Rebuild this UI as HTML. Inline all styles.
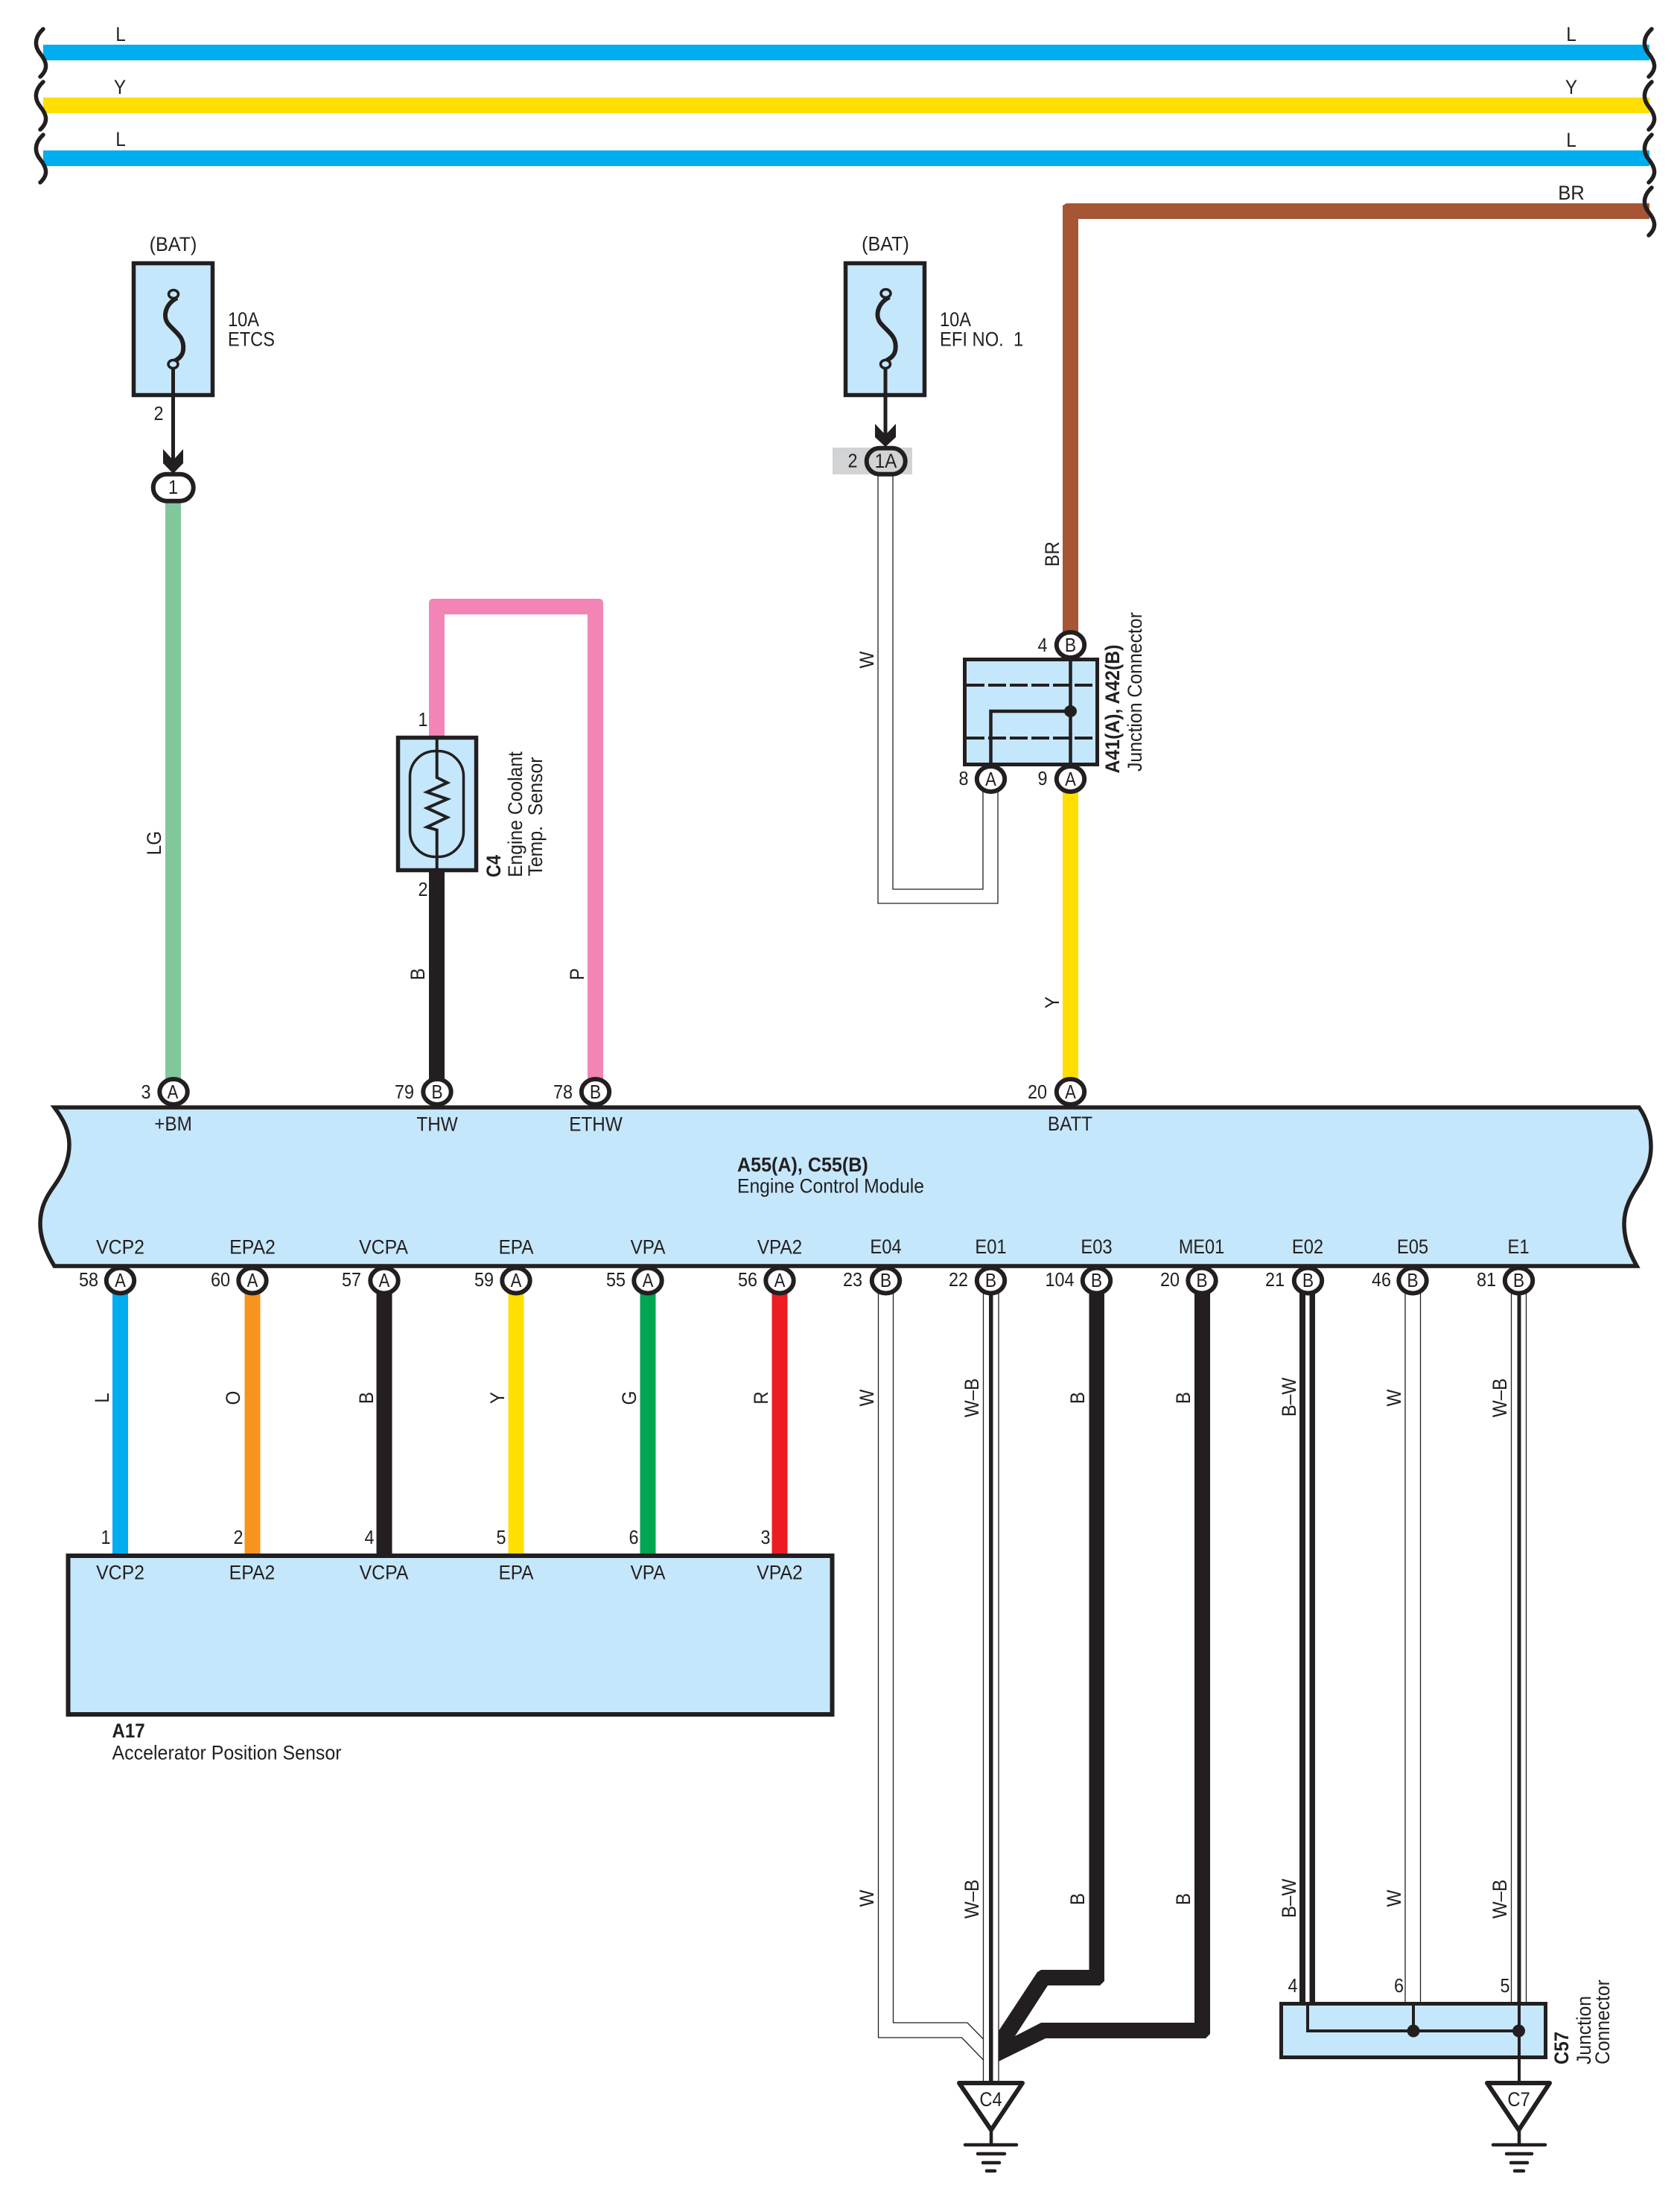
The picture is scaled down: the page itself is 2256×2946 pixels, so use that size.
<!DOCTYPE html>
<html><head><meta charset="utf-8"><title>Wiring diagram</title>
<style>
html,body{margin:0;padding:0;background:#fff}
svg{display:block}
text{font-family:"Liberation Sans",sans-serif;font-size:27px;fill:#231f20}
.m{text-anchor:middle}
.b{font-weight:bold}
.n{font-size:26px}
.k{fill:none;stroke:#231f20}
.t{fill:none;stroke:#231f20;stroke-width:1.3}
.box{fill:#c5e7fb;stroke:#231f20}
.c{fill:#fff;stroke:#231f20;stroke-width:6}
</style></head>
<body>
<svg xmlns="http://www.w3.org/2000/svg" width="2256" height="2946" viewBox="0 0 2256 2946">
<rect width="2256" height="2946" fill="#fff"/>

<!-- bus wires -->
<rect x="58" y="60" width="2157" height="21" fill="#00aeef"/>
<rect x="58" y="131" width="2157" height="21" fill="#ffde00"/>
<rect x="58" y="202" width="2157" height="21" fill="#00aeef"/>
<path d="M2215 273H1432L1427 276V860H1448V294H2215Z" fill="#a65535"/>

<!-- braces -->
<g class="k" stroke-width="5.5" stroke-linecap="round" fill="none" style="fill:none;stroke:#231f20">
<path id="br" d="M58 39C46 50 46 62 54 72C62 82 66 92 54 103"/>
<path d="M58 110C46 121 46 133 54 143C62 153 66 163 54 174"/>
<path d="M58 181C46 192 46 204 54 214C62 224 66 234 54 245"/>
<path d="M2218 39C2206 50 2206 62 2214 72C2222 82 2226 92 2214 103"/>
<path d="M2218 110C2206 121 2206 133 2214 143C2222 153 2226 163 2214 174"/>
<path d="M2218 181C2206 192 2206 204 2214 214C2222 224 2226 234 2214 245"/>
<path d="M2218 252C2206 263 2206 275 2214 285C2222 295 2226 305 2214 316"/>
</g>
<text class="m" transform="matrix(.9 0 0 1 162 55)">L</text>
<text class="m" transform="matrix(.9 0 0 1 161 126)">Y</text>
<text class="m" transform="matrix(.9 0 0 1 162 196)">L</text>
<text class="m" transform="matrix(.9 0 0 1 2110 55)">L</text>
<text class="m" transform="matrix(.9 0 0 1 2110 126)">Y</text>
<text class="m" transform="matrix(.9 0 0 1 2110 197)">L</text>
<text class="m" transform="matrix(.95 0 0 1 2110 268)">BR</text>

<!-- fuse 1 -->
<rect class="box" x="179.5" y="353.5" width="106" height="177" stroke-width="5.5"/>
<g id="f1" style="fill:none;stroke:#231f20">
<path d="M238 400C222 408 218 425 226 435C236 447 248 452 246 470C245 478 240 482 232 486" stroke-width="6" fill="none"/>
<path d="M232.5 496V620" stroke-width="5"/>
<ellipse cx="233" cy="395" rx="6.5" ry="5.5" stroke-width="3.5" fill="#c5e7fb"/>
<ellipse cx="232.5" cy="489" rx="6.5" ry="5.5" stroke-width="3.5" fill="#c5e7fb"/>
</g>
<polygon points="219,603 232.5,618 246,603 246,622 232.5,636 219,622" fill="#231f20"/>
<rect x="222" y="670" width="21" height="780" fill="#82c69c"/>
<rect class="c" x="205.7" y="636.7" width="54" height="36" rx="18" ry="18"/>
<text class="m" transform="matrix(.93 0 0 1 232.5 337)">(BAT)</text>
<text transform="matrix(.875 0 0 1 306 438)">10A</text>
<text transform="matrix(.875 0 0 1 306 464.5)">ETCS</text>
<text class="m n" transform="matrix(.9 0 0 1 213 564)">2</text>
<text class="m n" transform="matrix(.9 0 0 1 232.5 663)">1</text>
<text class="m" transform="matrix(0 -.9 1 0 216 1132)">LG</text>

<!-- fuse 2 -->
<rect class="box" x="1135.5" y="353.5" width="106" height="177" stroke-width="5.5"/>
<g transform="translate(956.5,-1)" style="fill:none;stroke:#231f20">
<path d="M238 400C222 408 218 425 226 435C236 447 248 452 246 470C245 478 240 482 232 486" stroke-width="6" fill="none"/>
<path d="M232.5 496V590" stroke-width="5"/>
<ellipse cx="233" cy="395" rx="6.5" ry="5.5" stroke-width="3.5" fill="#c5e7fb"/>
<ellipse cx="232.5" cy="490" rx="6.5" ry="5.5" stroke-width="3.5" fill="#c5e7fb"/>
</g>
<polygon points="1175,569 1189,584 1203,569 1203,587 1189,600 1175,587" fill="#231f20"/>
<rect x="1118" y="601" width="107" height="36" fill="#d1d3d4"/>
<rect x="1163.7" y="601.7" width="52" height="35" rx="17.5" ry="17.5" fill="#d1d3d4" stroke="#231f20" stroke-width="6"/>
<text class="m" transform="matrix(.93 0 0 1 1189 336.5)">(BAT)</text>
<text transform="matrix(.875 0 0 1 1262 438)">10A</text>
<text transform="matrix(.88 0 0 1 1262 464.5)">EFI NO.&#160; 1</text>
<text class="m n" transform="matrix(.9 0 0 1 1145 627.5)">2</text>
<text class="m" transform="matrix(.9 0 0 1 1189.5 628)">1A</text>

<!-- white wire 1A to junction -->
<path class="t" d="M1199 636V1194H1320V1060"/>
<path class="t" d="M1179 636V1213H1340V1060"/>
<text class="m" transform="matrix(0 -.9 1 0 1173 886)">W</text>
<text class="m" transform="matrix(0 -.9 1 0 1422 744)">BR</text>

<!-- junction A41 -->
<rect class="box" x="1295.5" y="885.5" width="178" height="141" stroke-width="5"/>
<g class="k" style="fill:none;stroke:#231f20">
<path d="M1298 920H1471M1298 991H1471" stroke-width="4" stroke-dasharray="24 5"/>
<path d="M1437.5 885V1029M1437.5 955H1330.5V1029" stroke-width="4.5"/>
</g>
<ellipse cx="1437.5" cy="955" rx="8.5" ry="8" fill="#231f20"/>
<rect x="1427" y="1060" width="21" height="392" fill="#ffde00"/>
<ellipse class="c" cx="1437.5" cy="866" rx="18.7" ry="17"/>
<ellipse class="c" cx="1330.5" cy="1046" rx="18.7" ry="17"/>
<ellipse class="c" cx="1437.5" cy="1046" rx="18.7" ry="17"/>
<text class="m n" transform="matrix(.88 0 0 1 1437.5 875)">B</text>
<text class="m n" transform="matrix(.85 0 0 1 1330.5 1055)">A</text>
<text class="m n" transform="matrix(.85 0 0 1 1437.5 1055)">A</text>
<text class="m n" transform="matrix(.9 0 0 1 1400 875)">4</text>
<text class="m n" transform="matrix(.9 0 0 1 1294 1054)">8</text>
<text class="m n" transform="matrix(.9 0 0 1 1400 1054)">9</text>
<text class="m b" transform="matrix(0 -.92 1 0 1503 952)">A41(A), A42(B)</text>
<text class="m" transform="matrix(0 -.92 1 0 1533 929)">Junction Connector</text>
<text class="m" transform="matrix(0 -.9 1 0 1422 1346)">Y</text>

<!-- coolant sensor -->
<path d="M576 992V810Q576 804 582 804H804Q810 804 810 810V1452H789V825H597V992Z" fill="#f285b5"/>
<rect x="576" y="1168" width="21" height="282" fill="#231f20"/>
<rect class="box" x="534.5" y="990.5" width="105" height="178" stroke-width="5.5"/>
<g style="fill:none;stroke:#231f20">
<rect x="550.5" y="1008.5" width="72" height="142" rx="34" ry="34" stroke-width="3.5"/>
<path d="M586.7 990V1044L600.7 1051L573.3 1063.6L600.7 1073L573.3 1085L600.7 1097.5L573.3 1110.6L586.7 1114.5V1171" stroke-width="4"/>
</g>
<text class="m n" transform="matrix(.9 0 0 1 568 975)">1</text>
<text class="m n" transform="matrix(.9 0 0 1 568 1203)">2</text>
<text class="m b" transform="matrix(0 -.87 1 0 672 1163)">C4</text>
<text class="m" transform="matrix(0 -.915 1 0 701 1093.5)">Engine Coolant</text>
<text class="m" transform="matrix(0 -.92 1 0 728 1096.5)">Temp.&#160; Sensor</text>
<text class="m" transform="matrix(0 -.9 1 0 570 1308)">B</text>
<text class="m" transform="matrix(0 -.9 1 0 784 1308)">P</text>

<!-- lower-left wires -->
<rect x="151" y="1730" width="21" height="358" fill="#00aeef"/>
<rect x="328.5" y="1730" width="21" height="358" fill="#f7941e"/>
<rect x="505.5" y="1730" width="21" height="358" fill="#231f20"/>
<rect x="682.5" y="1730" width="21" height="358" fill="#ffde00"/>
<rect x="859.5" y="1730" width="21" height="358" fill="#00a651"/>
<rect x="1036.5" y="1730" width="21" height="358" fill="#ed1c24"/>
<text class="m" transform="matrix(0 -.9 1 0 146 1877)">L</text>
<text class="m" transform="matrix(0 -.9 1 0 322 1877)">O</text>
<text class="m" transform="matrix(0 -.9 1 0 501 1877)">B</text>
<text class="m" transform="matrix(0 -.9 1 0 677 1877)">Y</text>
<text class="m" transform="matrix(0 -.9 1 0 854 1877)">G</text>
<text class="m" transform="matrix(0 -.9 1 0 1031 1877)">R</text>

<!-- ground wires -->
<path class="t" d="M1199.5 1735V2716H1299L1320.5 2738"/>
<path class="t" d="M1179.5 1735V2736H1291.5L1320.5 2766"/>
<polygon points="1483,1730 1483,2660 1477,2666 1407,2666 1363,2734 1398,2716 1604,2716 1604,1730 1625,1730 1625,2731 1619,2737 1404,2737 1341,2768 1341,2727 1393,2648 1398,2645 1462.5,2645 1462.5,1730" fill="#231f20"/>
<path class="t" d="M1320.5 1735V2796M1341 1735V2796"/>
<rect x="1328" y="1735" width="5.5" height="1062" fill="#231f20"/>
<rect x="1745" y="1735" width="21" height="956" fill="#231f20"/>
<rect x="1753" y="1735" width="5.5" height="956" fill="#fff"/>
<path class="t" d="M1887 1735V2690M1907.5 1735V2690"/>
<path class="t" d="M2029.5 1735V2690M2049.5 1735V2690"/>
<rect x="2037.5" y="1735" width="5" height="956" fill="#231f20"/>

<text class="m" transform="matrix(0 -.9 1 0 1173 1877)">W</text>
<text class="m" transform="matrix(0 -.9 1 0 1314 1877)">W–B</text>
<text class="m" transform="matrix(0 -.9 1 0 1456 1877)">B</text>
<text class="m" transform="matrix(0 -.9 1 0 1598 1877)">B</text>
<text class="m" transform="matrix(0 -.9 1 0 1740 1876)">B–W</text>
<text class="m" transform="matrix(0 -.9 1 0 1881 1877)">W</text>
<text class="m" transform="matrix(0 -.9 1 0 2023 1877)">W–B</text>
<text class="m" transform="matrix(0 -.9 1 0 1173 2549)">W</text>
<text class="m" transform="matrix(0 -.9 1 0 1314 2550)">W–B</text>
<text class="m" transform="matrix(0 -.9 1 0 1456 2550)">B</text>
<text class="m" transform="matrix(0 -.9 1 0 1598 2550)">B</text>
<text class="m" transform="matrix(0 -.9 1 0 1740 2549)">B–W</text>
<text class="m" transform="matrix(0 -.9 1 0 1881 2549)">W</text>
<text class="m" transform="matrix(0 -.9 1 0 2023 2550)">W–B</text>

<!-- ECM -->
<path class="box" stroke-width="5.5" d="M73 1487H2201C2212 1502 2217 1522 2217 1540C2217 1560 2210 1575 2202 1588C2190 1606 2181 1622 2181 1643C2181 1665 2188 1682 2198 1700H73C61 1680 54 1662 54 1643C54 1622 62 1607 73 1592C85 1575 93 1558 93 1537C93 1518 85 1503 73 1487Z"/>

<!-- ECM top pins -->
<ellipse class="c" cx="233" cy="1466" rx="18.7" ry="17"/>
<ellipse class="c" cx="587" cy="1466" rx="18.7" ry="17"/>
<ellipse class="c" cx="799.5" cy="1466" rx="18.7" ry="17"/>
<ellipse class="c" cx="1437.5" cy="1466" rx="18.7" ry="17"/>
<text class="m n" transform="matrix(.85 0 0 1 232 1475)">A</text>
<text class="m n" transform="matrix(.88 0 0 1 587 1475)">B</text>
<text class="m n" transform="matrix(.88 0 0 1 799.5 1475)">B</text>
<text class="m n" transform="matrix(.85 0 0 1 1437.5 1475)">A</text>
<text class="m n" transform="matrix(.9 0 0 1 196 1475)">3</text>
<text class="m n" transform="matrix(.9 0 0 1 543 1475)">79</text>
<text class="m n" transform="matrix(.9 0 0 1 756 1475)">78</text>
<text class="m n" transform="matrix(.9 0 0 1 1393 1475)">20</text>
<text class="m" transform="matrix(.9 0 0 1 232.5 1518)">+BM</text>
<text class="m" transform="matrix(.9 0 0 1 587 1518.5)">THW</text>
<text class="m" transform="matrix(.9 0 0 1 800 1518.5)">ETHW</text>
<text class="m" transform="matrix(.9 0 0 1 1437 1518)">BATT</text>

<text class="b" transform="matrix(.93 0 0 1 990 1573)">A55(A), C55(B)</text>
<text transform="matrix(.914 0 0 1 990 1601.5)">Engine Control Module</text>

<!-- ECM bottom labels -->
<g>
<text class="m" transform="matrix(.92 0 0 1 161.5 1683.5)">VCP2</text>
<text class="m" transform="matrix(.92 0 0 1 339 1683.5)">EPA2</text>
<text class="m" transform="matrix(.92 0 0 1 515 1683.5)">VCPA</text>
<text class="m" transform="matrix(.9 0 0 1 693 1683.5)">EPA</text>
<text class="m" transform="matrix(.9 0 0 1 870 1683.5)">VPA</text>
<text class="m" transform="matrix(.9 0 0 1 1047 1683.5)">VPA2</text>
<text class="m" transform="matrix(.88 0 0 1 1189.5 1683)">E04</text>
<text class="m" transform="matrix(.88 0 0 1 1330.5 1683)">E01</text>
<text class="m" transform="matrix(.88 0 0 1 1472.5 1683)">E03</text>
<text class="m" transform="matrix(.87 0 0 1 1613.5 1683)">ME01</text>
<text class="m" transform="matrix(.88 0 0 1 1756 1683)">E02</text>
<text class="m" transform="matrix(.88 0 0 1 1897 1683)">E05</text>
<text class="m" transform="matrix(.88 0 0 1 2039 1683)">E1</text>
</g>

<!-- ECM bottom pins -->
<ellipse class="c" cx="161.5" cy="1719.5" rx="18.7" ry="17"/>
<ellipse class="c" cx="339" cy="1719.5" rx="18.7" ry="17"/>
<ellipse class="c" cx="516" cy="1719.5" rx="18.7" ry="17"/>
<ellipse class="c" cx="693" cy="1719.5" rx="18.7" ry="17"/>
<ellipse class="c" cx="870" cy="1719.5" rx="18.7" ry="17"/>
<ellipse class="c" cx="1047" cy="1719.5" rx="18.7" ry="17"/>
<ellipse class="c" cx="1189.5" cy="1719.5" rx="18.7" ry="17"/>
<ellipse class="c" cx="1330.5" cy="1719.5" rx="18.7" ry="17"/>
<ellipse class="c" cx="1472.5" cy="1719.5" rx="18.7" ry="17"/>
<ellipse class="c" cx="1614" cy="1719.5" rx="18.7" ry="17"/>
<ellipse class="c" cx="1756.5" cy="1719.5" rx="18.7" ry="17"/>
<ellipse class="c" cx="1897" cy="1719.5" rx="18.7" ry="17"/>
<ellipse class="c" cx="2039.5" cy="1719.5" rx="18.7" ry="17"/>
<g>
<text class="m n" transform="matrix(.85 0 0 1 161.5 1728)">A</text>
<text class="m n" transform="matrix(.85 0 0 1 339 1728)">A</text>
<text class="m n" transform="matrix(.85 0 0 1 516 1728)">A</text>
<text class="m n" transform="matrix(.85 0 0 1 693 1728)">A</text>
<text class="m n" transform="matrix(.85 0 0 1 870 1728)">A</text>
<text class="m n" transform="matrix(.85 0 0 1 1047 1728)">A</text>
<text class="m n" transform="matrix(.88 0 0 1 1189.5 1728)">B</text>
<text class="m n" transform="matrix(.88 0 0 1 1330.5 1728)">B</text>
<text class="m n" transform="matrix(.88 0 0 1 1472.5 1728)">B</text>
<text class="m n" transform="matrix(.88 0 0 1 1614 1728)">B</text>
<text class="m n" transform="matrix(.88 0 0 1 1756.5 1728)">B</text>
<text class="m n" transform="matrix(.88 0 0 1 1897 1728)">B</text>
<text class="m n" transform="matrix(.88 0 0 1 2039.5 1728)">B</text>
<text class="m n" transform="matrix(.9 0 0 1 119 1727)">58</text>
<text class="m n" transform="matrix(.9 0 0 1 296 1727)">60</text>
<text class="m n" transform="matrix(.9 0 0 1 472 1727)">57</text>
<text class="m n" transform="matrix(.9 0 0 1 650 1727)">59</text>
<text class="m n" transform="matrix(.9 0 0 1 827 1727)">55</text>
<text class="m n" transform="matrix(.9 0 0 1 1004 1727)">56</text>
<text class="m n" transform="matrix(.9 0 0 1 1145 1727)">23</text>
<text class="m n" transform="matrix(.9 0 0 1 1287 1727)">22</text>
<text class="m n" transform="matrix(.9 0 0 1 1423 1727)">104</text>
<text class="m n" transform="matrix(.9 0 0 1 1571 1727)">20</text>
<text class="m n" transform="matrix(.9 0 0 1 1712 1727)">21</text>
<text class="m n" transform="matrix(.9 0 0 1 1855 1727)">46</text>
<text class="m n" transform="matrix(.9 0 0 1 1996 1727)">81</text>
</g>

<!-- A17 -->
<rect class="box" x="91.5" y="2089" width="1026" height="213" stroke-width="6"/>
<g>
<text class="m n" transform="matrix(.9 0 0 1 142 2073)">1</text>
<text class="m n" transform="matrix(.9 0 0 1 320 2073)">2</text>
<text class="m n" transform="matrix(.9 0 0 1 496 2073)">4</text>
<text class="m n" transform="matrix(.9 0 0 1 673 2073)">5</text>
<text class="m n" transform="matrix(.9 0 0 1 851 2073)">6</text>
<text class="m n" transform="matrix(.9 0 0 1 1028 2073)">3</text>
<text class="m" transform="matrix(.92 0 0 1 161.5 2120.5)">VCP2</text>
<text class="m" transform="matrix(.92 0 0 1 338.5 2120.5)">EPA2</text>
<text class="m" transform="matrix(.92 0 0 1 515.5 2120.5)">VCPA</text>
<text class="m" transform="matrix(.9 0 0 1 693 2120.5)">EPA</text>
<text class="m" transform="matrix(.9 0 0 1 870 2120.5)">VPA</text>
<text class="m" transform="matrix(.92 0 0 1 1047 2120.5)">VPA2</text>
<text class="b" transform="matrix(.89 0 0 1 150.5 2333)">A17</text>
<text transform="matrix(.925 0 0 1 150.5 2362.5)">Accelerator Position Sensor</text>
</g>

<!-- C57 -->
<rect class="box" x="1720.5" y="2690.5" width="355" height="72" stroke-width="5"/>
<g style="fill:none;stroke:#231f20">
<path d="M1756 2690V2727H2040M1898 2690V2727M2040 2690V2796" stroke-width="4"/>
</g>
<circle cx="1898" cy="2727" r="8.5" fill="#231f20"/>
<circle cx="2039.5" cy="2727" r="8.5" fill="#231f20"/>
<text class="m n" transform="matrix(.9 0 0 1 1736 2675)">4</text>
<text class="m n" transform="matrix(.9 0 0 1 1878.5 2675)">6</text>
<text class="m n" transform="matrix(.9 0 0 1 2021 2675)">5</text>
<text class="b" transform="matrix(0 -.89 1 0 2106 2772)">C57</text>
<text transform="matrix(0 -.915 1 0 2136 2772)">Junction</text>
<text transform="matrix(0 -.915 1 0 2161 2772)">Connector</text>

<!-- grounds -->
<polygon points="1288,2797 1373,2797 1331,2860" fill="#fff" stroke="#231f20" stroke-width="6" stroke-linejoin="round"/>
<polygon points="1997,2797 2081,2797 2039.5,2860" fill="#fff" stroke="#231f20" stroke-width="6" stroke-linejoin="round"/>
<text class="m" transform="matrix(.88 0 0 1 1330.5 2828)">C4</text>
<text class="m" transform="matrix(.88 0 0 1 2039.5 2828)">C7</text>
<g style="fill:none;stroke:#231f20" stroke-width="4.5" stroke-linecap="round">
<path d="M1331 2860V2880M1296 2880H1365M1313 2892H1349M1320 2904H1342M1325 2915H1336"/>
<path d="M2040 2860V2880M2005 2880H2075M2023 2892H2057M2029 2904H2051M2034 2915H2046"/>
</g>
</svg>
</body></html>
